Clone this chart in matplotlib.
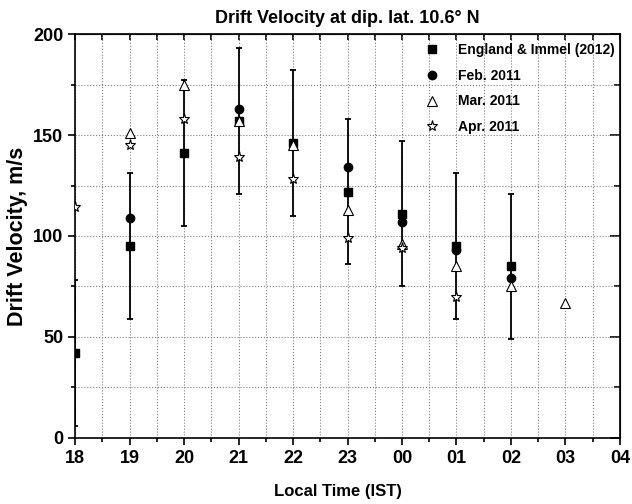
import matplotlib.pyplot as plt
from matplotlib.ticker import MultipleLocator

plt.rcParams['font.family'] = ['Liberation Sans', 'DejaVu Sans']
plt.rcParams['font.weight'] = 'bold'

# local time in hours after 18 IST (24 -> 00, 25 -> 01, ...)
tick_hours = [18, 19, 20, 21, 22, 23, 24, 25, 26, 27, 28]
tick_labels = ["18", "19", "20", "21", "22", "23", "00", "01", "02", "03", "04"]

ei_hours = [18, 19, 20, 21, 22, 23, 24, 25, 26]
ei_vel = [42, 95, 141, 157, 146, 122, 111, 95, 85]
ei_err = [36, 36, 36, 36, 36, 36, 36, 36, 36]

feb_hours = [19, 21, 23, 24, 25, 26]
feb_vel = [109, 163, 134, 107, 93, 79]

mar_hours = [19, 20, 21, 22, 23, 24, 25, 26, 27]
mar_vel = [151, 175, 157, 145, 113, 96, 85, 75, 67]

apr_hours = [18, 19, 20, 21, 22, 23, 24, 25]
apr_vel = [114.5, 145, 158, 139, 128, 99, 94, 70]

fig = plt.figure(figsize=(6.32, 5.04), dpi=100)
ax = fig.add_axes([0.1187, 0.131, 0.8623, 0.8015])

ax.errorbar(ei_hours, ei_vel, yerr=ei_err, fmt='none', ecolor='black',
            elinewidth=1.3, capsize=2.5, capthick=1.3, zorder=3)
ax.plot(ei_hours, ei_vel, 's', color='black', ms=5.5,
        label='England & Immel (2012)', zorder=3)
ax.plot(feb_hours, feb_vel, 'o', color='black', ms=6, label='Feb. 2011', zorder=4)
ax.plot(mar_hours, mar_vel, '^', mfc='white', mec='black', mew=0.8, ms=7.5,
        label='Mar. 2011', zorder=5)
ax.plot(apr_hours, apr_vel, '*', mfc='white', mec='black', mew=0.8, ms=8,
        label='Apr. 2011', zorder=6)

ax.set_xlim(18, 28)
ax.set_ylim(0, 200)
ax.set_xticks(tick_hours)
ax.set_xticklabels(tick_labels)
ax.set_yticks([0, 50, 100, 150, 200])
ax.xaxis.set_minor_locator(MultipleLocator(0.5))
ax.yaxis.set_minor_locator(MultipleLocator(25))

ax.tick_params(axis='both', which='major', direction='out', length=5, width=1.2,
               labelsize=13, top=False, right=False)
ax.tick_params(axis='both', which='minor', direction='out', length=3, width=1.2,
               top=False, right=False)
for s in ax.spines.values():
    s.set_linewidth(1.2)

# inward ticks on the top and right axes
ax_t = ax.secondary_xaxis('top')
ax_t.set_xticks(tick_hours)
ax_t.xaxis.set_minor_locator(MultipleLocator(0.5))
ax_t.tick_params(which='both', direction='in', length=4, width=1.2, labeltop=False)
ax_r = ax.secondary_yaxis('right')
ax_r.set_yticks([0, 50, 100, 150, 200])
ax_r.yaxis.set_minor_locator(MultipleLocator(25))
ax_r.tick_params(which='both', direction='in', length=4, width=1.2, labelright=False)
ax_r.tick_params(which='major', length=7)

ax.grid(True, which='both', linestyle=':', color='gray', linewidth=0.8)
ax.set_axisbelow(True)

ax.set_xlabel('Local Time (IST)', fontsize=12, fontweight='bold')
ax.xaxis.set_label_coords(0.4817, -0.114)
ax.set_ylabel('Drift Velocity, m/s', fontsize=15.5, fontweight='bold')
ax.yaxis.set_label_coords(-0.086, 0.5)
fig.text(0.5498, 0.955, 'Drift Velocity at dip. lat. 10.6° N', ha='center',
         va='baseline', fontsize=13, fontweight='bold')

leg = ax.legend(loc='upper left', bbox_to_anchor=(0.626, 0.992), frameon=False,
                fontsize=10, handletextpad=1.12, labelspacing=0.85,
                borderaxespad=0, handlelength=1.5)

fig.savefig('out.png', dpi=100)
